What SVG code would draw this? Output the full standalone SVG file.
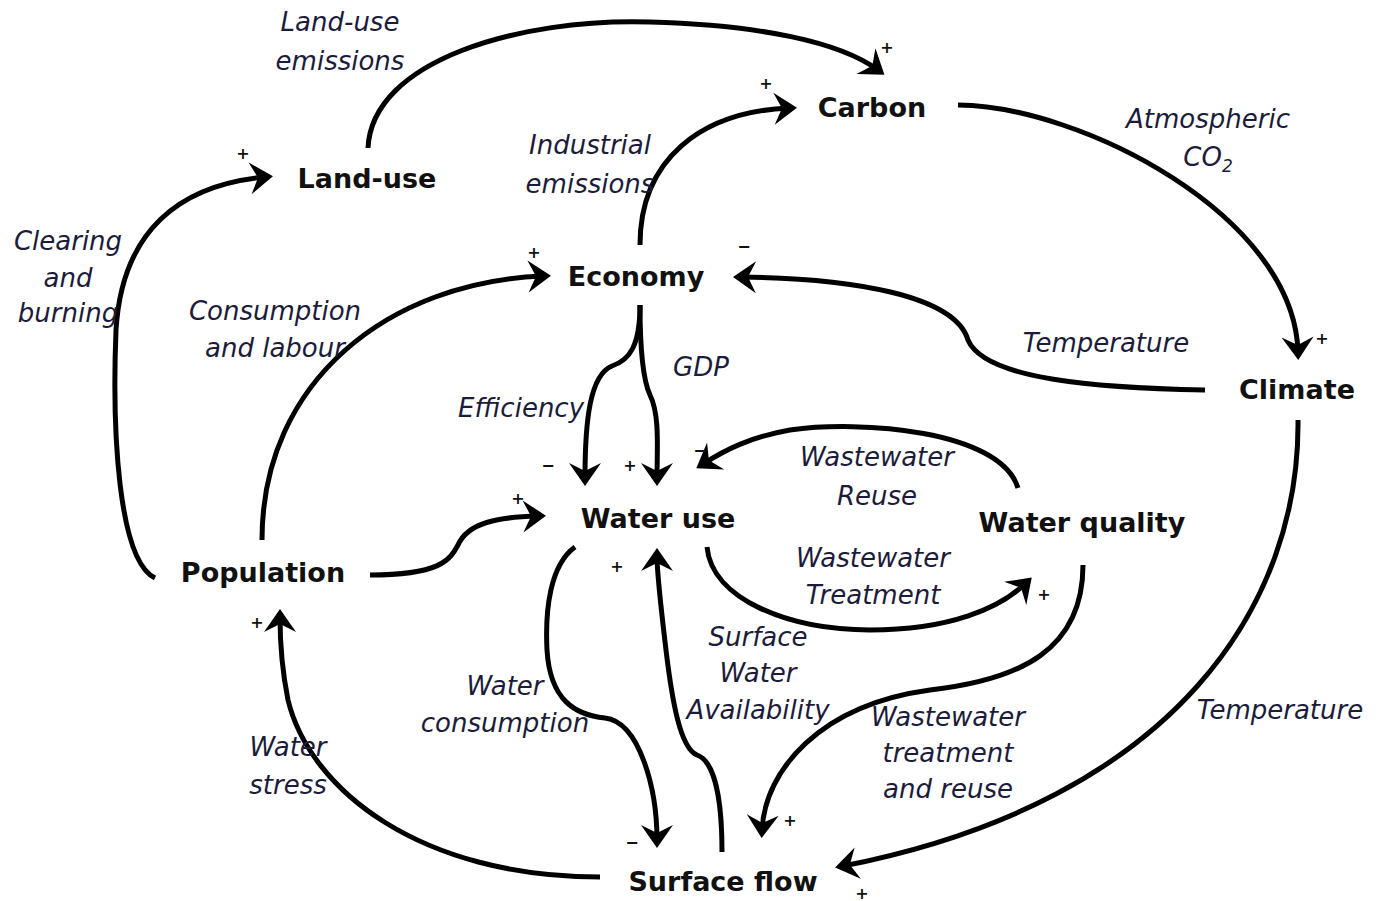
<svg xmlns="http://www.w3.org/2000/svg" width="1378" height="901" viewBox="0 0 1378 901">
  <style>
    .node { font-family: "DejaVu Sans", Verdana, sans-serif; font-weight: bold; font-size: 27px; fill: #111; text-anchor: middle; }
    .lbl { font-family: "DejaVu Sans", Verdana, sans-serif; font-style: italic; font-size: 26px; fill: #1c1c3a; text-anchor: middle; }
    .sign { font-family: "DejaVu Sans", Verdana, sans-serif; font-weight: bold; font-size: 16px; fill: #111; text-anchor: middle; }
    .link { fill: none; stroke: #000; stroke-width: 5; stroke-linecap: butt; marker-end: url(#arrow); }
  </style>
  <defs>
    <marker id="arrow" markerUnits="userSpaceOnUse" viewBox="-16 -17 25 34" refX="0" refY="0" markerWidth="25" markerHeight="34" orient="auto" overflow="visible">
      <path d="M8,0 L-15,-16 L-7,0 L-15,16 Z" fill="#000"/>
    </marker>
  </defs>
  <rect width="1378" height="901" fill="#fff"/>

  <!-- connectors -->
  <g id="connectors">
    <path class="link" d="M368,148 C372,60 520,18 650,22 C760,25 840,42 878,70"/>
    <path class="link" d="M640,245 C640,160 700,112 789,108"/>
    <path class="link" d="M958,105 C1080,106 1294,215 1298,352"/>
    <path class="link" d="M1205,390 C1100,388 985,380 968,340 C955,295 850,278 741,277"/>
    <path class="link" d="M1298,420 C1300,600 1180,800 843,866"/>
    <path class="link" d="M155,578 C118,560 112,430 116,330 C122,230 180,185 265,177"/>
    <path class="link" d="M262,540 C262,380 390,282 543,276"/>
    <path class="link" d="M370,575 C440,575 450,560 458,545 C468,522 500,517 538,516"/>
    <path class="link" d="M640,305 C640,345 630,360 612,366 C590,375 585,420 585,478"/>
    <path class="link" d="M640,305 C640,345 643,380 650,395 C660,415 657,450 657,478"/>
    <path class="link" d="M1018,488 C1000,430 860,420 790,430 C750,437 725,450 703,464"/>
    <path class="link" d="M707,547 C712,600 790,630 870,630 C950,630 1000,608 1026,583"/>
    <path class="link" d="M575,547 C550,565 545,610 547,650 C550,700 575,715 605,718 C640,722 657,790 657,840"/>
    <path class="link" d="M722,852 C722,790 712,760 697,755 C680,748 672,700 666,650 C660,600 657,575 657,556"/>
    <path class="link" d="M1083,565 C1083,650 1020,680 930,690 C820,705 765,770 762,830"/>
    <path class="link" d="M600,877 C420,877 310,790 288,700 C282,670 280,640 280,617"/>
  </g>

  <!-- link labels -->
  <g id="labels">
    <text class="lbl" x="340" y="31">Land-use</text>
    <text class="lbl" x="340" y="70">emissions</text>
    <text class="lbl" x="590" y="154">Industrial</text>
    <text class="lbl" x="590" y="193">emissions</text>
    <text class="lbl" x="1208" y="128">Atmospheric</text>
    <text class="lbl" x="1208" y="166">CO<tspan font-size="17" dy="6">2</tspan></text>
    <text class="lbl" x="68" y="250">Clearing</text>
    <text class="lbl" x="68" y="287">and</text>
    <text class="lbl" x="68" y="322">burning</text>
    <text class="lbl" x="275" y="320">Consumption</text>
    <text class="lbl" x="275" y="357">and labour</text>
    <text class="lbl" x="1106" y="352">Temperature</text>
    <text class="lbl" x="701" y="376">GDP</text>
    <text class="lbl" x="521" y="417">Efficiency</text>
    <text class="lbl" x="877" y="466">Wastewater</text>
    <text class="lbl" x="877" y="505">Reuse</text>
    <text class="lbl" x="873" y="567">Wastewater</text>
    <text class="lbl" x="873" y="604">Treatment</text>
    <text class="lbl" x="758" y="646">Surface</text>
    <text class="lbl" x="758" y="682">Water</text>
    <text class="lbl" x="758" y="719">Availability</text>
    <text class="lbl" x="505" y="695">Water</text>
    <text class="lbl" x="505" y="732">consumption</text>
    <text class="lbl" x="948" y="726">Wastewater</text>
    <text class="lbl" x="948" y="762">treatment</text>
    <text class="lbl" x="948" y="798">and reuse</text>
    <text class="lbl" x="288" y="756">Water</text>
    <text class="lbl" x="288" y="794">stress</text>
    <text class="lbl" x="1280" y="719">Temperature</text>
  </g>

  <!-- polarity signs -->
  <g id="signs">
    <text class="sign" x="887" y="53">+</text>
    <text class="sign" x="766" y="89">+</text>
    <text class="sign" x="1322" y="344">+</text>
    <text class="sign" x="744" y="252">−</text>
    <text class="sign" x="243" y="159">+</text>
    <text class="sign" x="534" y="258">+</text>
    <text class="sign" x="548" y="471">−</text>
    <text class="sign" x="630" y="471">+</text>
    <text class="sign" x="700" y="456">−</text>
    <text class="sign" x="518" y="504">+</text>
    <text class="sign" x="617" y="572">+</text>
    <text class="sign" x="1044" y="600">+</text>
    <text class="sign" x="257" y="628">+</text>
    <text class="sign" x="632" y="848">−</text>
    <text class="sign" x="790" y="826">+</text>
    <text class="sign" x="862" y="899">+</text>
  </g>

  <!-- nodes -->
  <g id="node-landuse"><text class="node" x="367" y="188">Land-use</text></g>
  <g id="node-carbon"><text class="node" x="872" y="117">Carbon</text></g>
  <g id="node-economy"><text class="node" x="636" y="286">Economy</text></g>
  <g id="node-climate"><text class="node" x="1297" y="399">Climate</text></g>
  <g id="node-wateruse"><text class="node" x="658" y="528">Water use</text></g>
  <g id="node-waterquality"><text class="node" x="1082" y="532">Water quality</text></g>
  <g id="node-population"><text class="node" x="263" y="582">Population</text></g>
  <g id="node-surfaceflow"><text class="node" x="723" y="891">Surface flow</text></g>
</svg>
